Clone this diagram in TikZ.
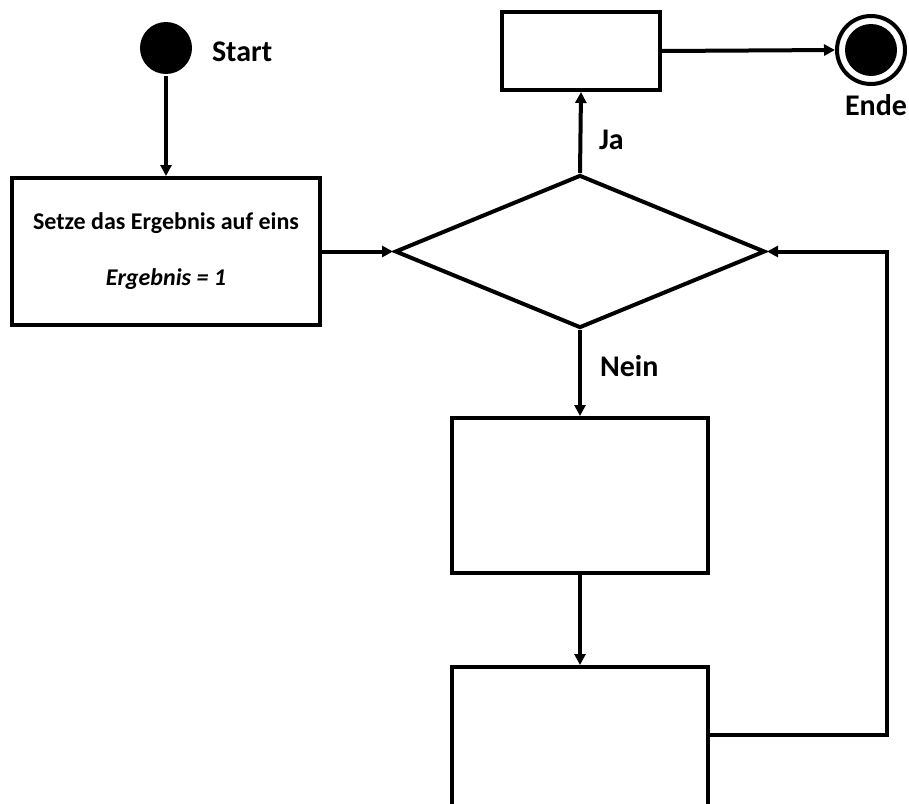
\documentclass[tikz,border=0pt]{standalone}
\usepackage{fontspec}
\setmainfont{Carlito}
\usetikzlibrary{arrows.meta,shapes.geometric}
\begin{document}
\begin{tikzpicture}[x=1pt,y=-1pt,
  line width=4pt,
  box/.style={draw,rectangle,inner sep=0pt,fill=white},
  arr/.style={-{Triangle[length=11pt,width=11pt]}},
  lbl/.style={font=\bfseries\fontsize{30}{34}\selectfont,inner sep=0pt}
]
\useasboundingbox (0,0) rectangle (909,803);
\clip (0,0) rectangle (909,803);
% nodes
\node[circle,fill=black,minimum size=52pt,inner sep=0pt] (start) at (166,48) {};
\node[lbl,anchor=west] (starttxt) at (210,52) {Start};
\node[box,minimum width=308pt,minimum height=147pt,align=center,font=\bfseries\fontsize{24}{29}\selectfont] (init) at (166,251.5)
  {Setze das Ergebnis auf eins\\[27pt]\textit{Ergebnis = 1}};
\node[draw,diamond,inner sep=0pt,minimum width=370pt,minimum height=153pt] (dec) at (580,251.5) {};
\node[box,minimum width=158pt,minimum height=78pt] (top) at (581,51) {};
\node[circle,draw,fill=white,line width=4pt,minimum size=68pt,inner sep=0pt] (endo) at (871,50) {};
\node[circle,fill=black,minimum size=52pt,inner sep=0pt] (endi) at (871,50) {};
\node[lbl] (endtxt) at (876,105) {Ende};
\node[box,minimum width=256pt,minimum height=155pt] (b3) at (580,495.5) {};
\node[box,minimum width=256pt,minimum height=170pt] (b4) at (580,752) {};
\coordinate (lc) at (887,735);
% connectors
\draw[arr] (start) -- (init.north);
\draw[arr] (init.east |- dec.west) -- (dec.west);
\draw[arr] (dec.north) -- (top.south);
\node[lbl,anchor=west] (ja) at (597,140) {Ja};
\draw[arr] (top.east) -- (endo.west);
\draw[arr] (dec.south) -- (b3.north);
\node[lbl,anchor=west] (nein) at (598,366) {Nein};
\draw[arr] (b3.south) -- (b4.north);
\draw[arr] (b4.east |- lc) -- (lc) |- (dec.east);
\end{tikzpicture}
\end{document}
